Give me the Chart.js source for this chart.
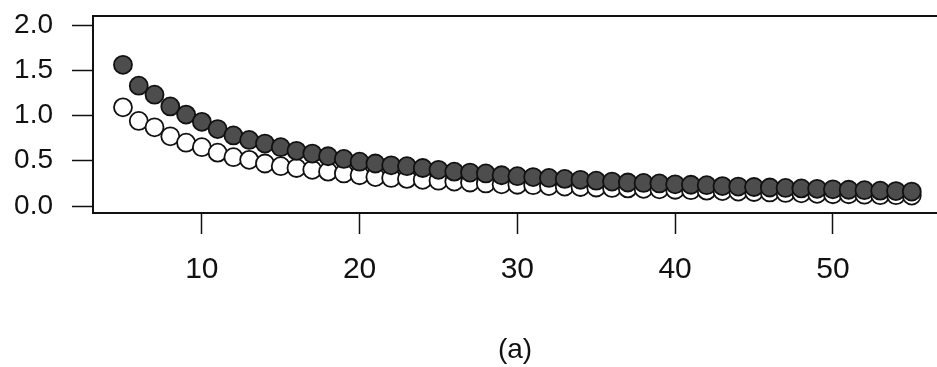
<!DOCTYPE html>
<html>
<head>
<meta charset="utf-8">
<script src="https://cdn.jsdelivr.net/npm/chart.js@4.4.1/dist/chart.umd.min.js"></script>
<style>
  html, body { margin: 0; padding: 0; background: #fff; }
  #wrap { width: 937px; height: 367px; }
</style>
</head>
<body>
<div id="wrap"><canvas id="myChart" width="937" height="367"></canvas></div>
<script>
const xs = [5,6,7,8,9,10,11,12,13,14,15,16,17,18,19,20,21,22,23,24,25,26,27,28,29,30,
  31,32,33,34,35,36,37,38,39,40,41,42,43,44,45,46,47,48,49,50,51,52,53,54,55]

// filled circles
const filledVals = [1.56,1.33,1.23,1.10,1.01,0.93,0.85,0.78,0.73,0.69,0.65,0.61,0.58,0.55,0.52,0.49,
  0.47,0.45,0.44,0.42,0.40,0.38,0.37,0.36,0.34,0.33,0.32,0.31,0.30,0.29,0.28,0.27,0.26,0.255,
  0.25,0.24,0.235,0.23,0.22,0.215,0.21,0.205,0.20,0.195,0.19,0.185,0.18,0.175,0.17,0.165,0.16]

// open circles
const openVals = [1.09,0.94,0.87,0.77,0.70,0.65,0.59,0.54,0.51,0.47,0.44,0.42,0.40,0.38,0.36,0.34,
  0.32,0.31,0.30,0.29,0.28,0.27,0.26,0.25,0.24,0.235,0.23,0.22,0.215,0.21,0.205,0.20,0.195,0.19,
  0.185,0.18,0.175,0.17,0.165,0.16,0.155,0.15,0.145,0.14,0.135,0.13,0.13,0.125,0.12,0.12,0.115]

const xTicks = [10, 20, 30, 40, 50]
const yTicks = [0, 0.5, 1.0, 1.5, 2.0]
const panelLabel = "(a)"

const toPoints = (vals) => xs.map((x, i) => ({ x: x, y: vals[i] }))

const family = "'Liberation Sans', Arial, sans-serif"

// box around the plot region (right side runs off the page)
const frame = {
  id: "frame",
  afterDatasetsDraw(chart) {
    const a = chart.chartArea
    const c = chart.ctx
    c.save()
    c.strokeStyle = "#111"
    c.lineWidth = 2
    c.strokeRect(a.left, a.top, a.right - a.left + 5, a.bottom - a.top)
    c.restore()
  }
}

new Chart(document.getElementById("myChart"), {
  type: "scatter",
  data: {
    datasets: [
      {
        label: "filled",
        data: toPoints(filledVals),
        pointRadius: 9,
        pointBorderWidth: 1.8,
        pointBackgroundColor: "#4d4d4d",
        pointBorderColor: "#111",
        order: 0
      },
      {
        label: "open",
        data: toPoints(openVals),
        pointRadius: 9,
        pointBorderWidth: 1.8,
        pointBackgroundColor: "#fff",
        pointBorderColor: "#111",
        order: 1
      }
    ]
  },
  options: {
    responsive: false,
    animation: false,
    layout: { autoPadding: false, padding: { top: 16, right: 0, left: 0, bottom: 0 } },
    plugins: { legend: { display: false }, tooltip: { enabled: false } },
    scales: {
      x: {
        type: "linear",
        min: 3.1,
        max: 56.6,
        afterBuildTicks: (s) => { s.ticks = xTicks.map((v) => ({ value: v })) },
        afterFit: (s) => { s.height = 154; s.paddingLeft = 0; s.paddingRight = 0 },
        grid: { drawOnChartArea: false, drawTicks: true, tickLength: 21, tickColor: "#111", tickWidth: 1.5 },
        border: { display: false },
        ticks: { color: "#111", font: { family: family, size: 30 }, padding: 18, maxRotation: 0 },
        title: { display: true, text: panelLabel, color: "#111", font: { family: family, size: 28 }, padding: { top: 0, bottom: 0 } }
      },
      y: {
        min: -0.077,
        max: 2.0995,
        afterBuildTicks: (s) => { s.ticks = yTicks.map((v) => ({ value: v })) },
        afterFit: (s) => { s.width = 93; s.paddingTop = 0; s.paddingBottom = 0 },
        grid: { drawOnChartArea: false, drawTicks: true, tickLength: 21, tickColor: "#111", tickWidth: 1.5 },
        border: { display: false },
        ticks: { color: "#111", font: { family: family, size: 28 }, padding: 19, callback: (v) => v.toFixed(1) }
      }
    }
  },
  plugins: [frame]
})
</script>
</body>
</html>
